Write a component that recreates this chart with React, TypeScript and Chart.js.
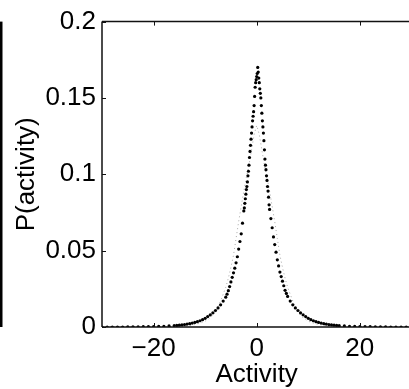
import { useEffect, useRef } from "react";
import { Chart, registerables } from "chart.js";

Chart.register(...registerables);

const xTicks = [-20, 0, 20];
const xTickLabels = ["\u221220", "0", "20"];
const yTicks = [0, 0.05, 0.1, 0.15, 0.2];
const yTickLabels = ["0", "0.05", "0.1", "0.15", "0.2"];
const xTitle = "Activity";
const yTitle = "P(activity)";

// empirical distribution (black dots)
const blackX = [
  -30, -29, -28, -27, -26, -25, -24, -23, -22, -21, -20, -19, -18, -17,
  -16, -15.5, -15, -14.5, -14, -13.5, -13, -12.5, -12, -11.5, -11, -10.5, -10, -9.5, -9, -8.5, -8, -7.5, -7, -6.5,
  -6, -5.75, -5.5, -5.25, -5, -4.75, -4.5, -4.25, -4, -3.75, -3.5, -3.25, -3, -2.75,
  -2.5, -2.4, -2.3, -2.2, -2.1, -2.0, -1.9, -1.8, -1.7, -1.6, -1.5, -1.4, -1.3, -1.2, -1.1, -1.0,
  -0.9, -0.8, -0.7, -0.6, -0.5, -0.4, -0.3, -0.2, -0.1, 0.0, 0.1, 0.2, 0.3, 0.4, 0.5, 0.6, 0.7, 0.8, 0.9,
  1.0, 1.1, 1.2, 1.3, 1.4, 1.5, 1.6, 1.7, 1.8, 1.9, 2.0, 2.1, 2.2, 2.3, 2.4, 2.5,
  2.75, 3, 3.25, 3.5, 3.75, 4, 4.25, 4.5, 4.75, 5, 5.25, 5.5, 5.75, 6,
  6.5, 7, 7.5, 8, 8.5, 9, 9.5, 10, 10.5, 11, 11.5, 12, 12.5, 13, 13.5, 14, 14.5, 15, 15.5, 16,
  17, 18, 19, 20, 21, 22, 23, 24, 25, 26, 27, 28, 29, 30,
];
const blackY = [
  0, 0, 0, 0, 0, 0.0001, 0.0001, 0.0001, 0.0002, 0.0002, 0.0003, 0.0004, 0.0005, 0.0007,
  0.0009, 0.001, 0.0012, 0.0014, 0.0016, 0.0019, 0.0022, 0.0026, 0.003, 0.0035, 0.0041, 0.0048, 0.0057, 0.0068, 0.008, 0.0093, 0.0108, 0.0125, 0.0145, 0.017,
  0.0195, 0.0215, 0.0238, 0.0265, 0.0295, 0.0325, 0.0355, 0.0385, 0.042, 0.046, 0.051, 0.056, 0.061, 0.068,
  0.076, 0.078, 0.081, 0.084, 0.087, 0.09, 0.092, 0.095, 0.099, 0.102, 0.106, 0.111, 0.115, 0.119, 0.123, 0.127,
  0.131, 0.135, 0.138, 0.141, 0.145, 0.151, 0.157, 0.16, 0.162, 0.164, 0.166, 0.17, 0.167, 0.163, 0.16, 0.156, 0.153, 0.15, 0.145,
  0.14, 0.135, 0.131, 0.127, 0.122, 0.116, 0.11, 0.106, 0.103, 0.099, 0.096, 0.092, 0.089, 0.085, 0.08, 0.077,
  0.071, 0.065, 0.059, 0.054, 0.049, 0.044, 0.04, 0.036, 0.033, 0.03, 0.027, 0.024, 0.022, 0.02,
  0.017, 0.0145, 0.0125, 0.0108, 0.0093, 0.008, 0.0068, 0.0057, 0.0048, 0.0041, 0.0035, 0.003, 0.0026, 0.0022, 0.0019, 0.0016, 0.0014, 0.0012, 0.001, 0.0009,
  0.0007, 0.0005, 0.0004, 0.0003, 0.0002, 0.0002, 0.0001, 0.0001, 0.0001, 0, 0, 0, 0, 0,
];

// model distribution (grey dotted line)
const grayX = [
  -30, -25, -20, -17, -15, -13, -12, -11, -10, -9, -8, -7, -6, -5.5, -5, -4.5, -4, -3.5, -3, -2.5, -2, -1.5, -1, -0.5,
  0, 0.5, 1, 1.5, 2, 2.5, 3, 3.5, 4, 4.5, 5, 5.5, 6, 7, 8, 9, 10, 11, 12, 13, 15, 17, 20, 25, 30,
];
const grayY = [
  0, 0, 0.0001, 0.0002, 0.0004, 0.001, 0.0016, 0.0025, 0.0038, 0.006, 0.0095, 0.017, 0.026, 0.032, 0.039, 0.047, 0.058, 0.069, 0.079, 0.089, 0.098, 0.106, 0.116, 0.126,
  0.132, 0.126, 0.116, 0.106, 0.098, 0.089, 0.079, 0.069, 0.058, 0.047, 0.039, 0.032, 0.026, 0.017, 0.0095, 0.006, 0.0038, 0.0025, 0.0016, 0.001, 0.0004, 0.0002, 0.0001, 0, 0,
];

const FONT = "'Liberation Sans', Arial, Helvetica, sans-serif";
const FS = 26;

const framePlugin = {
  id: "frame",
  afterDatasetsDraw(chart: any) {
    const { ctx, chartArea } = chart;
    const { left, right, top, bottom } = chartArea;
    const xs = chart.scales.x;
    const ys = chart.scales.y;
    ctx.save();
    // edge of the neighbouring panel
    ctx.fillStyle = "#000";
    ctx.fillRect(0, top, 2.5, bottom - top);
    // axes box
    ctx.strokeStyle = "#111";
    ctx.lineWidth = 1.5;
    ctx.beginPath();
    ctx.moveTo(left, top);
    ctx.lineTo(left, bottom);
    ctx.moveTo(left, bottom);
    ctx.lineTo(right, bottom);
    ctx.moveTo(left, top);
    ctx.lineTo(right, top);
    ctx.stroke();
    // inward ticks
    ctx.lineWidth = 1;
    const tl = 4;
    ctx.beginPath();
    for (const v of xTicks) {
      const px = Math.round(xs.getPixelForValue(v)) + 0.5;
      ctx.moveTo(px, bottom);
      ctx.lineTo(px, bottom - tl);
      ctx.moveTo(px, top);
      ctx.lineTo(px, top + tl);
    }
    for (const v of yTicks) {
      const py = Math.round(ys.getPixelForValue(v)) + 0.5;
      ctx.moveTo(left, py);
      ctx.lineTo(left + tl, py);
    }
    ctx.stroke();
    ctx.restore();
  },
};

export default function App() {
  const ref = useRef<HTMLCanvasElement | null>(null);
  useEffect(() => {
    document.body.style.margin = "0";
    const canvas = ref.current;
    if (!canvas) return;
    const chart = new Chart(canvas, {
      type: "scatter",
      data: {
        datasets: [
          {
            label: "empirical",
            data: blackX.map((x, i) => ({ x, y: blackY[i] })),
            showLine: false,
            pointRadius: 1.6,
            pointHoverRadius: 1.6,
            pointBackgroundColor: "#000",
            pointBorderWidth: 0,
          },
          {
            label: "model",
            data: grayX.map((x, i) => ({ x, y: grayY[i] })),
            showLine: true,
            borderColor: "#a8a8a8",
            borderWidth: 1,
            borderDash: [1, 3],
            pointRadius: 0,
            tension: 0,
          },
        ],
      },
      options: {
        animation: false,
        responsive: false,
        devicePixelRatio: 1,
        layout: { padding: { top: 15, left: 0, right: 0, bottom: 0 } },
        plugins: { legend: { display: false }, tooltip: { enabled: false } },
        scales: {
          x: {
            type: "linear",
            min: -30,
            max: 30,
            grid: { display: false, drawTicks: false },
            border: { display: false },
            afterBuildTicks: (s: any) => {
              s.ticks = xTicks.map((v) => ({ value: v }));
            },
            afterFit: (s: any) => {
              s.height = 62;
            },
            ticks: {
              color: "#000",
              padding: 6,
              maxRotation: 0,
              autoSkip: false,
              font: { family: FONT, size: FS },
              callback: (v: any) => xTickLabels[xTicks.indexOf(Number(v))] ?? "",
            },
            title: {
              display: true,
              text: xTitle,
              color: "#000",
              font: { family: FONT, size: FS, lineHeight: 1.2 },
              padding: { top: 0, bottom: -1 },
            },
          },
          y: {
            type: "linear",
            min: 0,
            max: 0.2,
            grid: { display: false, drawTicks: false },
            border: { display: false },
            afterBuildTicks: (s: any) => {
              s.ticks = yTicks.map((v) => ({ value: v }));
            },
            afterFit: (s: any) => {
              s.width = 102;
            },
            ticks: {
              color: "#000",
              padding: 6,
              autoSkip: false,
              font: { family: FONT, size: FS },
              callback: (v: any) => {
                const i = yTicks.findIndex((t) => Math.abs(t - Number(v)) < 1e-9);
                return i >= 0 ? yTickLabels[i] : "";
              },
            },
            title: {
              display: true,
              text: yTitle,
              color: "#000",
              font: { family: FONT, size: FS, lineHeight: 1.2 },
              padding: { top: 11, bottom: 0 },
            },
          },
        },
      },
      plugins: [framePlugin],
    });
    return () => chart.destroy();
  }, []);
  return (
    <div style={{ width: 409, height: 389, overflow: "hidden", position: "relative", background: "#fff" }}>
      <canvas ref={ref} width={413} height={389} style={{ display: "block", width: 413, height: 389 }} />
    </div>
  );
}
